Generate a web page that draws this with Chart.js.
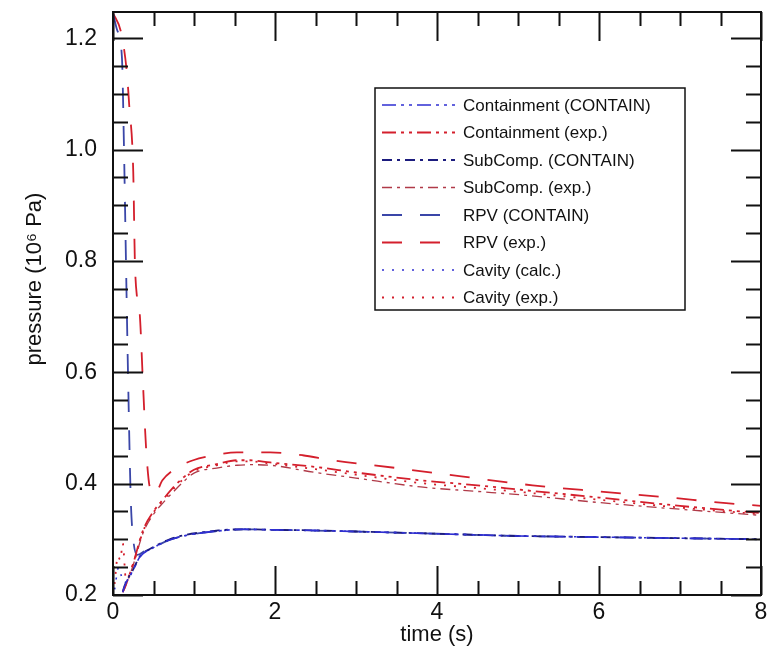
<!DOCTYPE html>
<html>
<head>
<meta charset="utf-8">
<script src="https://cdn.jsdelivr.net/npm/chart.js@4/dist/chart.umd.min.js"></script>
<style>
  body { margin: 0; background: #fff; }
  #wrap { width: 771px; height: 662px; }
</style>
</head>
<body>
<div id="wrap"><canvas id="chart" width="771" height="662"></canvas></div>
<script>
// ================== Data ==================
const labels = [
  "Containment (CONTAIN)", "Containment (exp.)",
  "SubComp. (CONTAIN)", "SubComp. (exp.)",
  "RPV (CONTAIN)", "RPV (exp.)",
  "Cavity (calc.)", "Cavity (exp.)"
];

// time (s) / pressure (10^6 Pa)
const tCalc = [0.12, 0.15, 0.25, 0.33, 0.5, 0.7, 0.9, 1.07, 1.3, 1.6, 2.0, 2.5, 3.0, 3.5, 4.0, 4.5, 5.0, 5.5, 6.0, 6.5, 7.0, 7.5, 8.0];
const pContCalc = [0.205, 0.218, 0.245, 0.268, 0.285, 0.299, 0.307, 0.311, 0.315, 0.318, 0.317, 0.316, 0.314, 0.312, 0.310, 0.308, 0.306, 0.305, 0.304, 0.303, 0.302, 0.301, 0.300];
const pSubCalc  = [0.206, 0.219, 0.246, 0.269, 0.286, 0.300, 0.308, 0.312, 0.316, 0.318, 0.317, 0.316, 0.314, 0.312, 0.310, 0.308, 0.306, 0.305, 0.304, 0.303, 0.302, 0.301, 0.300];

const tRpvCalc = [0, 0.05, 0.11, 0.136, 0.16, 0.185, 0.22, 0.25, 0.3, 0.4, 0.5, 0.7, 0.9, 1.07, 1.3, 1.6, 2.0, 3.0, 4.0, 5.0, 6.0, 7.0, 8.0];
const pRpvCalc = [1.245, 1.215, 1.166, 1.0, 0.8, 0.6, 0.37, 0.30, 0.272, 0.280, 0.286, 0.299, 0.307, 0.311, 0.315, 0.318, 0.317, 0.314, 0.310, 0.306, 0.304, 0.302, 0.300];

const tCavCalc = [0.02, 0.07, 0.1, 0.14, 0.2, 0.25, 0.33, 0.5, 0.7, 0.9, 1.07, 1.3, 1.6, 2.0, 3.0, 4.0, 5.0, 6.0, 7.0, 8.0];
const pCavCalc = [0.21, 0.25, 0.236, 0.222, 0.232, 0.245, 0.268, 0.285, 0.299, 0.307, 0.311, 0.315, 0.318, 0.317, 0.314, 0.310, 0.306, 0.304, 0.302, 0.300];

const tExp = [0.12, 0.15, 0.25, 0.37, 0.5, 0.62, 0.75, 0.86, 1.0, 1.28, 1.53, 1.69, 1.94, 2.5, 3.0, 3.8, 4.5, 5.1, 6.0, 7.0, 8.0];
const pContExp = [0.205, 0.215, 0.257, 0.316, 0.350, 0.372, 0.394, 0.410, 0.425, 0.435, 0.442, 0.442, 0.438, 0.430, 0.420, 0.406, 0.397, 0.388, 0.375, 0.360, 0.347];
const pSubExp  = [0.205, 0.214, 0.254, 0.311, 0.345, 0.366, 0.386, 0.402, 0.419, 0.428, 0.433, 0.434, 0.433, 0.420, 0.410, 0.394, 0.386, 0.379, 0.366, 0.354, 0.343];

const tRpvExp = [0, 0.1, 0.17, 0.2, 0.25, 0.27, 0.3, 0.33, 0.37, 0.41, 0.46, 0.52, 0.61, 0.74, 0.99, 1.25, 1.53, 1.94, 2.34, 2.7, 3.5, 4.3, 5.18, 6.0, 6.8, 7.57, 8.0];
const pRpvExp = [1.245, 1.21, 1.14, 1.08, 0.96, 0.80, 0.73, 0.705, 0.58, 0.46, 0.39, 0.382, 0.406, 0.424, 0.442, 0.451, 0.456, 0.456, 0.451, 0.442, 0.428, 0.413, 0.397, 0.386, 0.376, 0.365, 0.360];

const tCavExp = [0.02, 0.06, 0.09, 0.12, 0.16, 0.25, 0.37, 0.5, 0.62, 0.75, 0.86, 1.0, 1.28, 1.53, 1.69, 1.94, 2.5, 3.0, 3.8, 4.5, 5.1, 6.0, 7.0, 8.0];
const pCavExp = [0.22, 0.27, 0.263, 0.293, 0.228, 0.256, 0.314, 0.348, 0.370, 0.391, 0.407, 0.422, 0.433, 0.440, 0.440, 0.436, 0.426, 0.416, 0.401, 0.392, 0.384, 0.371, 0.357, 0.345];

// axes
const xTicks = [0, 2, 4, 6, 8];
const yTicks = [0.2, 0.4, 0.6, 0.8, 1.0, 1.2];

function pts(t, p) {
  return t.map((v, i) => ({ x: v, y: p[i] }));
}

const BLUE = "#2f2fd2";
const NAVY = "#1c1c7e";
const RED = "#d41f2c";
const DRED = "#b03a48";
const FONT = "'Liberation Sans', Arial, sans-serif";

function ds(label, t, p, color, dash, width) {
  return {
    label: label,
    data: pts(t, p),
    borderColor: color,
    backgroundColor: color,
    borderDash: dash,
    borderWidth: width || 1.6,
    pointRadius: 0,
    fill: false,
    cubicInterpolationMode: "monotone"
  };
}

const datasets = [
  ds(labels[0], tCalc, pContCalc, BLUE, [14, 5, 3, 5, 3, 5]),
  ds(labels[1], tExp, pContExp, RED, [14, 5, 3, 5, 3, 5], 1.8),
  ds(labels[2], tCalc, pSubCalc, NAVY, [10, 5, 3, 5], 1.8),
  ds(labels[3], tExp, pSubExp, DRED, [10, 5, 3, 5], 1.3),
  ds(labels[4], tRpvCalc, pRpvCalc, "#3a46a8", [20, 18], 1.8),
  ds(labels[5], tRpvExp, pRpvExp, RED, [20, 18], 1.8),
  ds(labels[6], tCavCalc, pCavCalc, BLUE, [2, 8], 1.6),
  ds(labels[7], tCavExp, pCavExp, RED, [2, 8], 1.8)
];

// ================== Plugins ==================
// khung + vạch chia hướng vào trong
const frameTicks = {
  id: "frameTicks",
  afterDraw(chart) {
    const ctx = chart.ctx;
    const a = chart.chartArea;
    const xs = chart.scales.x, ys = chart.scales.y;
    ctx.save();
    ctx.strokeStyle = "#111";
    ctx.lineWidth = 2;
    ctx.setLineDash([]);
    ctx.beginPath();
    for (let i = 0; i <= 16; i++) {
      const v = i * 0.5;
      const px = Math.round(xs.getPixelForValue(v)) + 0.5;
      const len = i % 4 === 0 ? 29 : 14;
      ctx.moveTo(px, a.bottom); ctx.lineTo(px, a.bottom - len);
      ctx.moveTo(px, a.top); ctx.lineTo(px, a.top + len);
    }
    for (let i = 0; i <= 20; i++) {
      const v = 0.2 + i * 0.05;
      if (v > 1.245) break;
      const py = Math.round(ys.getPixelForValue(v)) + 0.5;
      const len = i % 4 === 0 ? 30 : 15;
      ctx.moveTo(a.left, py); ctx.lineTo(a.left + len, py);
      ctx.moveTo(a.right, py); ctx.lineTo(a.right - len, py);
    }
    ctx.stroke();
    ctx.strokeRect(a.left, a.top, a.right - a.left, a.bottom - a.top);
    ctx.restore();
  }
};

// chú thích có khung, đặt trong vùng vẽ
const boxLegend = {
  id: "boxLegend",
  afterDraw(chart) {
    const ctx = chart.ctx;
    const left = 375, top = 88, w = 310, h = 222;
    ctx.save();
    ctx.fillStyle = "#fff";
    ctx.fillRect(left, top, w, h);
    ctx.strokeStyle = "#111";
    ctx.lineWidth = 1.5;
    ctx.setLineDash([]);
    ctx.strokeRect(left, top, w, h);
    ctx.font = "17px " + FONT;
    ctx.textBaseline = "middle";
    chart.data.datasets.forEach((d, i) => {
      const y = top + 17 + i * 27.5;
      ctx.strokeStyle = d.borderColor;
      ctx.lineWidth = d.borderWidth;
      ctx.setLineDash(d.borderDash);
      ctx.beginPath();
      ctx.moveTo(left + 7, y);
      ctx.lineTo(left + 80, y);
      ctx.stroke();
      ctx.fillStyle = "#111";
      ctx.fillText(d.label, left + 88, y + 1);
    });
    ctx.restore();
  }
};

// ================== Chart ==================
const ctx = document.getElementById("chart").getContext("2d");
new Chart(ctx, {
  type: "line",
  data: { datasets: datasets },
  options: {
    responsive: false,
    animation: false,
    layout: { autoPadding: false, padding: { top: 12, right: 10, left: 0, bottom: 0 } },
    plugins: {
      legend: { display: false },
      tooltip: { enabled: false }
    },
    scales: {
      x: {
        type: "linear",
        min: 0,
        max: 8,
        afterFit(scale) {
          scale.height = 67;
          scale.paddingLeft = 0; scale.paddingRight = 0;
        },
        afterBuildTicks(scale) { scale.ticks = xTicks.map(v => ({ value: v })); },
        grid: { display: false, drawTicks: false },
        border: { display: false },
        ticks: {
          color: "#111",
          padding: 4,
          maxRotation: 0,
          font: { family: FONT, size: 23 },
          callback: v => String(v)
        },
        title: {
          display: true,
          text: "time (s)",
          color: "#111",
          padding: { top: 0, bottom: 14 },
          font: { family: FONT, size: 22 }
        }
      },
      y: {
        type: "linear",
        min: 0.2,
        max: 1.247,
        afterFit(scale) {
          scale.width = 113;
          scale.paddingTop = 0; scale.paddingBottom = 0;
        },
        afterBuildTicks(scale) { scale.ticks = yTicks.map(v => ({ value: v })); },
        grid: { display: false, drawTicks: false },
        border: { display: false },
        ticks: {
          color: "#111",
          padding: 16,
          font: { family: FONT, size: 23 },
          callback: v => v.toFixed(1)
        },
        title: {
          display: true,
          // khoảng trắng đầu để đẩy chữ lên giống bản gốc
          text: "\u00a0\u00a0\u00a0\u00a0\u00a0\u00a0\u00a0\u00a0pressure (10⁶ Pa)",
          color: "#111",
          padding: { top: 22, bottom: 0 },
          font: { family: FONT, size: 22 }
        }
      }
    }
  },
  plugins: [frameTicks, boxLegend]
});
</script>
</body>
</html>
